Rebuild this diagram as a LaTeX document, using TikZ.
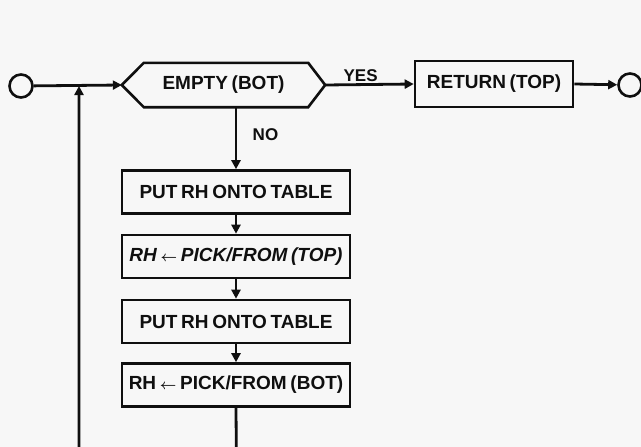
\documentclass[tikz,border=0pt]{standalone}
\usepackage{fontspec}
\usepackage{amsmath}
\setmainfont{Liberation Sans}[WordSpace=0.7]
\usetikzlibrary{arrows.meta}
\definecolor{paper}{RGB}{247,247,247}
\definecolor{ink}{RGB}{15,15,15}
\tikzset{
  every node/.style={font=\fontsize{19}{21}\selectfont\bfseries, text=ink},
  conn/.style={draw=ink, line width=2.8pt},
  arr/.style={conn, -{Triangle[length=9pt,width=9pt]}},
  stepbox/.style={draw=ink, line width=2.6pt, rectangle, minimum width=228pt, minimum height=43pt, inner sep=0pt},
  hexnode/.style={rectangle, minimum width=203pt, minimum height=44pt, inner sep=0pt},
  term/.style={draw=ink, line width=2.6pt, circle, minimum size=23pt, inner sep=0pt},
  lbl/.style={font=\fontsize{17}{19}\selectfont\bfseries}
}
\newcommand{\lar}{{\fontsize{15}{17}\selectfont$\boldsymbol{\leftarrow}$}}
\begin{document}
\begin{tikzpicture}[x=1pt,y=-1pt]
\fill[paper] (0,0) rectangle (641,447);
\clip (0,0) rectangle (641,447);
\useasboundingbox (0,0) rectangle (641,447);

\node[term] (start) at (21,86) {};
\node[term] (end) at (630,85) {};
\node[hexnode] (hex) at (223.5,85) {EMPTY (BOT)};
\draw[conn, line width=2.6pt, line join=miter] ([xshift=22pt]hex.north west) -- ([xshift=-17pt]hex.north east) -- (hex.east)
  -- ([xshift=-17pt]hex.south east) -- ([xshift=22pt]hex.south west) -- (hex.west) -- cycle;
\node[stepbox, minimum width=158pt, minimum height=46pt] (ret) at (494,84) {RETURN (TOP)};

\node[stepbox] (b1) at (236,192) {PUT RH ONTO TABLE};
\node[stepbox] (b2) at (236,256.5) {\itshape RH \lar\ PICK/FROM (TOP)};
\node[stepbox] (b3) at (236,321.5) {PUT RH ONTO TABLE};
\node[stepbox] (b4) at (236,385) {RH \lar\ PICK/FROM (BOT)};

\coordinate (fb) at (79,86);
\coordinate (fbbot) at (79,475);
\coordinate (dn) at (236.5,475);

\draw[arr] (start) -- (hex.west);
\draw[arr] (hex.east) -- node[lbl, above, pos=0.4, inner sep=2pt] {YES} (ret.west);
\draw[arr] (ret.east) -- (end);
\draw[arr] (hex.south -| b1.north) -- node[lbl, right, pos=0.45, xshift=12pt] {NO} (b1.north);
\draw[arr] (b1.south) -- (b2.north);
\draw[arr] (b2.south) -- (b3.north);
\draw[arr] (b3.south) -- (b4.north);
\draw[arr] (b4.south) -- (dn) -- (fbbot) -- (fb);
\end{tikzpicture}
\end{document}
